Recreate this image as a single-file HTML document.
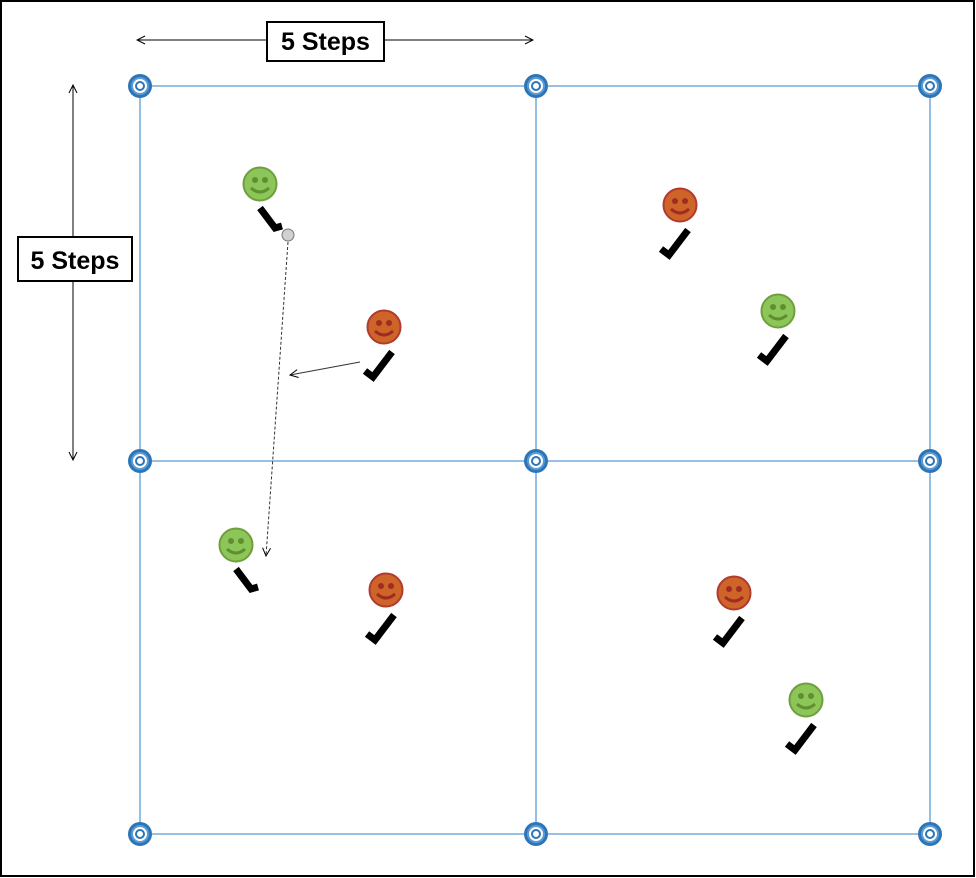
<!DOCTYPE html>
<html><head><meta charset="utf-8"><style>
html,body{margin:0;padding:0;background:#fff;}
svg{display:block;}
text{font-family:"Liberation Sans",sans-serif;font-weight:bold;}
</style></head><body>
<svg id="s" width="976" height="878" viewBox="0 0 976 878" xmlns="http://www.w3.org/2000/svg">
<defs>
<marker id="ah" markerWidth="10" markerHeight="10" refX="9" refY="5" orient="auto-start-reverse" markerUnits="userSpaceOnUse">
<path d="M1,1 L9,5 L1,9" fill="none" stroke="#000" stroke-width="1"/>
</marker>
</defs>
<rect x="1" y="1" width="973" height="875" fill="#fff" stroke="#000" stroke-width="2"/>
<g id="grid"></g>
<g id="cones"></g>
<line x1="288" y1="242" x2="266" y2="556" stroke="#333" stroke-width="1" stroke-dasharray="3,2" marker-end="url(#ah)"/>
<line x1="360" y1="362" x2="290" y2="375" stroke="#333" stroke-width="1" marker-end="url(#ah)"/>
<g id="players"></g>
<line x1="266" y1="40" x2="137" y2="40" stroke="#000" stroke-width="1" marker-end="url(#ah)"/>
<line x1="385" y1="40" x2="533" y2="40" stroke="#000" stroke-width="1" marker-end="url(#ah)"/>
<g>
<rect x="267" y="22" width="117" height="39" fill="#fff" stroke="#000" stroke-width="2"/>
<text x="325.5" y="50" font-size="25" text-anchor="middle">5 Steps</text>
</g>
<line x1="73" y1="236" x2="73" y2="85" stroke="#000" stroke-width="1" marker-end="url(#ah)"/>
<line x1="73" y1="282" x2="73" y2="460" stroke="#000" stroke-width="1" marker-end="url(#ah)"/>
<g>
<rect x="18" y="237" width="114" height="44" fill="#fff" stroke="#000" stroke-width="2"/>
<text x="75" y="269" font-size="25" text-anchor="middle">5 Steps</text>
</g>
</svg>
<script>
const gridX=[140,536,930];
const gridY=[86,461,834];
const playerX=[260,384,680,778,236,386,734,806];
const playerY=[184,327,205,311,545,590,593,700];
const playerTeam=['green','red','red','green','green','red','red','green'];
const stickType=['left','right','right','right','left','right','right','right'];
const NS='http://www.w3.org/2000/svg';
function mk(tag,attrs,parent){const e=document.createElementNS(NS,tag);for(const k in attrs)e.setAttribute(k,attrs[k]);parent.appendChild(e);return e;}
const grid=document.getElementById('grid');
gridY.forEach(y=>{const l=mk('line',{x1:gridX[0],y1:y,x2:gridX[gridX.length-1],y2:y,stroke:'#5b9bd5','stroke-width':1.3},grid);

});
gridX.forEach(x=>{const l=mk('line',{x1:x,y1:gridY[0],x2:x,y2:gridY[gridY.length-1],stroke:'#5b9bd5','stroke-width':1.3},grid);

});
const cones=document.getElementById('cones');
gridX.forEach(x=>gridY.forEach(y=>{const g=mk('g',{},cones);


mk('circle',{cx:x,cy:y,r:12,fill:'#2e75b6'},g);
mk('circle',{cx:x,cy:y,r:8,fill:'#fff',stroke:'#5b9bd5','stroke-width':2},g);
mk('circle',{cx:x,cy:y,r:4,fill:'#fff',stroke:'#2e75b6','stroke-width':2},g);}));
const players=document.getElementById('players');
playerX.forEach((x,i)=>{const y=playerY[i];
const g=mk('g',{},players);


const green=playerTeam[i]==='green';
const fill=green?'#8cc659':'#cf6429', edge=green?'#6f9e3e':'#b03a2e', feat=green?'#5f8f30':'#a02a24';
mk('circle',{cx:x,cy:y,r:16.5,fill:fill,stroke:edge,'stroke-width':2},g);
mk('circle',{cx:x-5,cy:y-4,r:3,fill:feat},g);
mk('circle',{cx:x+5,cy:y-4,r:3,fill:feat},g);
mk('path',{d:`M${x-9},${y+4} Q${x},${y+12} ${x+9},${y+4}`,fill:'none',stroke:feat,'stroke-width':3},g);
let d;
if(stickType[i]==='left'){d=`M${x},${y+24} L${x+15},${y+44} L${x+22},${y+42}`;}
else{d=`M${x+8},${y+25} L${x-11},${y+50} L${x-19},${y+44}`;}
mk('path',{d:d,fill:'none',stroke:'#000','stroke-width':7,'stroke-linejoin':'miter','stroke-linecap':'butt'},g);
});
const ball=mk('circle',{cx:288,cy:235,r:6,fill:'#d0d0d0',stroke:'#777','stroke-width':1},document.getElementById('players'));


</script>
</body></html>
